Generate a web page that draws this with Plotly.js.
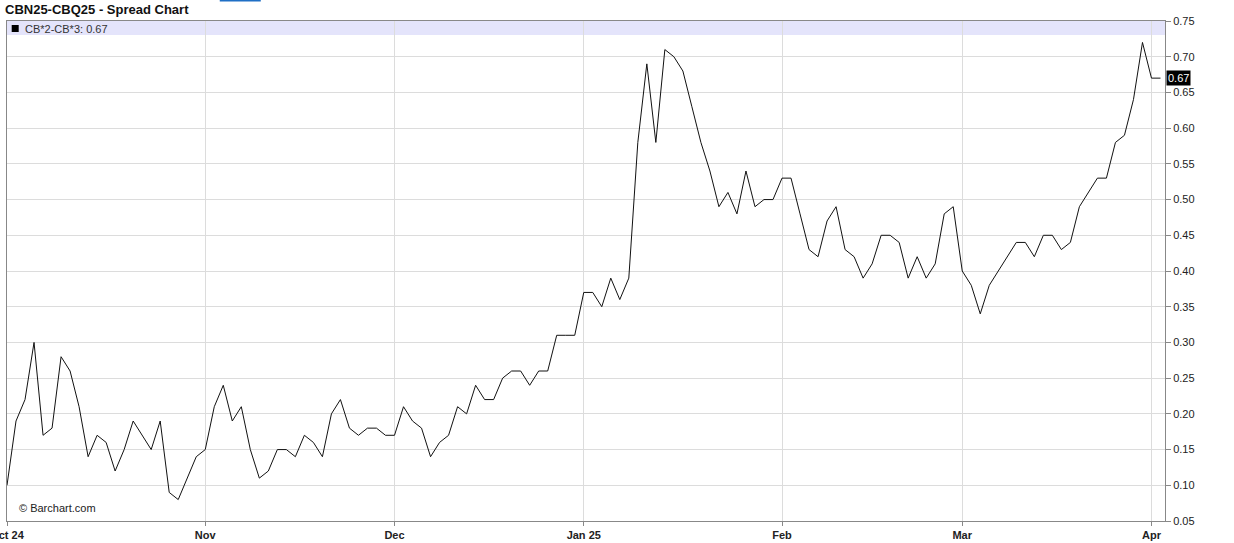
<!DOCTYPE html>
<html>
<head>
<meta charset="utf-8">
<script src="https://cdn.plot.ly/plotly-3.0.1.min.js"></script>
<style>
  html, body { margin: 0; padding: 0; background: #fff; }
  #chart { width: 1234px; height: 543px; }
</style>
</head>
<body>
<div id="chart"></div>
<script>
// Daily spread values CB*2-CB*3 (trading-day sequence, Oct 2024 - Apr 2025)
const spreadValues = [
  0.10, 0.19, 0.22, 0.30, 0.17, 0.18, 0.28, 0.26, 0.21, 0.14,
  0.17, 0.16, 0.12, 0.15, 0.19, 0.17, 0.15, 0.19, 0.09, 0.08,
  0.11, 0.14, 0.15, 0.21, 0.24, 0.19, 0.21, 0.15, 0.11, 0.12,
  0.15, 0.15, 0.14, 0.17, 0.16, 0.14, 0.20, 0.22, 0.18, 0.17,
  0.18, 0.18, 0.17, 0.17, 0.21, 0.19, 0.18, 0.14, 0.16, 0.17,
  0.21, 0.20, 0.24, 0.22, 0.22, 0.25, 0.26, 0.26, 0.24, 0.26,
  0.26, 0.31, 0.31, 0.31, 0.37, 0.37, 0.35, 0.39, 0.36, 0.39,
  0.58, 0.69, 0.58, 0.71, 0.70, 0.68, 0.63, 0.58, 0.54, 0.49,
  0.51, 0.48, 0.54, 0.49, 0.50, 0.50, 0.53, 0.53, 0.48, 0.43,
  0.42, 0.47, 0.49, 0.43, 0.42, 0.39, 0.41, 0.45, 0.45, 0.44,
  0.39, 0.42, 0.39, 0.41, 0.48, 0.49, 0.40, 0.38, 0.34, 0.38,
  0.40, 0.42, 0.44, 0.44, 0.42, 0.45, 0.45, 0.43, 0.44, 0.49,
  0.51, 0.53, 0.53, 0.58, 0.59, 0.64, 0.72, 0.67, 0.67
];
// Index of first trading day of each month and its label
const monthTickIndex = [0, 22, 43, 64, 86, 106, 127];
const monthTickLabels = ['Oct 24', 'Nov', 'Dec', 'Jan 25', 'Feb', 'Mar', 'Apr'];
const yTickValues = [0.05, 0.10, 0.15, 0.20, 0.25, 0.30, 0.35, 0.40, 0.45, 0.50, 0.55, 0.60, 0.65, 0.70, 0.75];
const chartTitle = 'CBN25-CBQ25 - Spread Chart';
const seriesName = 'CB*2-CB*3';

const xIdx = spreadValues.map((_, i) => i);
const lastValue = spreadValues[spreadValues.length - 1];

const FONT = 'Liberation Sans, Arial, sans-serif';

const trace = {
  x: xIdx,
  y: spreadValues,
  type: 'scatter',
  mode: 'lines',
  line: { color: '#111', width: 1 },
  hoverinfo: 'skip',
  showlegend: false
};

const layout = {
  width: 1234,
  height: 543,
  margin: { l: 7.3, r: 69, t: 21, b: 22, autoexpand: false },
  paper_bgcolor: '#fff',
  plot_bgcolor: '#fff',
  font: { family: FONT, size: 11, color: '#222' },
  title: {
    text: chartTitle,
    x: 5 / 1234, xanchor: 'left', xref: 'container',
    y: 1 - 9 / 543, yanchor: 'middle', yref: 'container',
    font: { family: FONT, size: 13, weight: 'bold', color: '#111' }
  },
  xaxis: {
    range: [0, 128.5],
    tickmode: 'array',
    tickvals: monthTickIndex,
    ticktext: monthTickLabels,
    ticklabeloverflow: 'allow',
    ticks: 'outside', ticklen: 4, tickcolor: '#888',
    showgrid: true, gridcolor: '#dcdcdc', gridwidth: 1,
    showline: true, linecolor: '#888', linewidth: 1, mirror: true,
    zeroline: false,
    tickfont: { family: FONT, size: 11, weight: 'bold', color: '#222' },
    fixedrange: true
  },
  yaxis: {
    side: 'right',
    range: [0.05, 0.75],
    tickmode: 'array',
    tickvals: yTickValues,
    ticktext: yTickValues.map(v => v.toFixed(2)),
    ticks: 'outside', ticklen: 5, tickcolor: '#888',
    showgrid: true, gridcolor: '#dcdcdc', gridwidth: 1,
    showline: true, linecolor: '#888', linewidth: 1, mirror: true,
    zeroline: false,
    tickfont: { family: FONT, size: 11, color: '#222' },
    fixedrange: true
  },
  shapes: [
    // legend band at top of plot
    { type: 'rect', xref: 'paper', yref: 'paper', x0: 0, x1: 1, y0: 1 - 14 / 500, y1: 1,
      fillcolor: '#e4e4fb', line: { width: 0 }, layer: 'below' },
    // legend square marker
    { type: 'rect', xref: 'paper', yref: 'paper',
      x0: (12 - 7.3) / 1157.7, x1: (19 - 7.3) / 1157.7,
      y0: (521 - 32) / 500, y1: (521 - 25) / 500,
      fillcolor: '#000', line: { width: 0 } },
    // blue tab underline in header
    { type: 'rect', xref: 'paper', yref: 'paper',
      x0: (220 - 7.3) / 1157.7, x1: (261 - 7.3) / 1157.7,
      y0: (521 - 1.5) / 500, y1: (521 + 1) / 500,
      fillcolor: '#1f6fc5', line: { width: 0 } }
  ],
  annotations: [
    { xref: 'paper', yref: 'paper', x: (23 - 7.3) / 1157.7, y: (521 - 28.5) / 500,
      xanchor: 'left', yanchor: 'middle', showarrow: false,
      text: seriesName + ': ' + lastValue.toFixed(2),
      font: { family: FONT, size: 11, color: '#333' } },
    { xref: 'paper', yref: 'y', x: 1, y: lastValue, xanchor: 'left', yanchor: 'middle',
      xshift: 1, showarrow: false, text: lastValue.toFixed(2),
      bgcolor: '#000', borderpad: 1,
      font: { family: FONT, size: 11, color: '#fff' } },
    { xref: 'paper', yref: 'paper', x: (17 - 7.3) / 1157.7, y: (521 - 508) / 500,
      xanchor: 'left', yanchor: 'middle', showarrow: false,
      text: '© Barchart.com',
      font: { family: FONT, size: 11, color: '#222' } }
  ]
};

Plotly.newPlot('chart', [trace], layout, { displayModeBar: false, staticPlot: true });
</script>
</body>
</html>
